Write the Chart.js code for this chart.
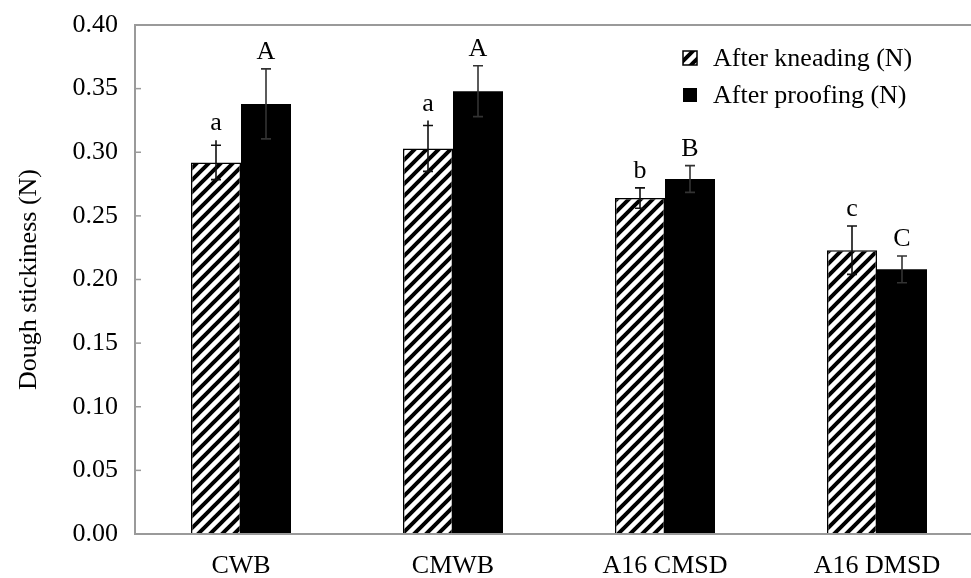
<!DOCTYPE html>
<html>
<head>
<meta charset="utf-8">
<script src="https://cdn.jsdelivr.net/npm/chart.js@4.4.1/dist/chart.umd.min.js"></script>
<style>
body{margin:0;background:#fff;}
#wrap{width:971px;height:578px;overflow:hidden;position:relative;}
</style>
</head>
<body>
<div id="wrap"><canvas id="barChart" width="990" height="578"></canvas></div>
<script>
var labels = ['CWB', 'CMWB', 'A16 CMSD', 'A16 DMSD'];
var kneading = [0.292, 0.303, 0.264, 0.223];
var kneadingErr = [0.0135, 0.018, 0.008, 0.019];
var proofing = [0.338, 0.348, 0.279, 0.208];
var proofingErr = [0.0275, 0.020, 0.0105, 0.0105];
var kneadingLetters = ['a', 'a', 'b', 'c'];
var proofingLetters = ['A', 'A', 'B', 'C'];
var dagger = [true, true, false, false];
var yTicks = [0, 0.05, 0.10, 0.15, 0.20, 0.25, 0.30, 0.35, 0.40];

var serif = '"Liberation Serif", "Times New Roman", serif';

// diagonal hatch
function makeHatch(){
    var c = document.createElement('canvas');
    c.width = 12; c.height = 12;
    var g = c.getContext('2d');
    g.fillStyle = '#fff';
    g.fillRect(0, 0, 12, 12);
    g.strokeStyle = '#000';
    g.lineWidth = 4;
    g.beginPath();
    g.moveTo(-3, 15); g.lineTo(15, -3);
    g.moveTo(-9, 9); g.lineTo(9, -9);
    g.moveTo(3, 21); g.lineTo(21, 3);
    g.stroke();
    return c;
}
var ctx = document.getElementById('barChart').getContext('2d');
var hatch = ctx.createPattern(makeHatch(), 'repeat');

var errs = [kneadingErr, proofingErr];
var letters = [kneadingLetters, proofingLetters];

var extras = {
    id: 'extras',
    afterDatasetsDraw: function(chart){
        var c = chart.ctx;
        var y = chart.scales.y;
        c.save();
        // inner ticks on y axis
        c.strokeStyle = '#9a9a9a';
        c.lineWidth = 1.5;
        yTicks.forEach(function(v){
            var py = y.getPixelForValue(v);
            c.beginPath();
            c.moveTo(chart.chartArea.left, py);
            c.lineTo(chart.chartArea.left + 6, py);
            c.stroke();
        });
        chart.data.datasets.forEach(function(ds, di){
            var meta = chart.getDatasetMeta(di);
            meta.data.forEach(function(bar, i){
                var v = ds.data[i];
                var e = errs[di][i];
                var top = y.getPixelForValue(v + e);
                var bot = y.getPixelForValue(v - e);
                var x = bar.x;
                c.strokeStyle = di === 0 ? '#111' : '#333';
                c.lineWidth = 1.6;
                c.beginPath();
                var tip = top;
                if (di === 0 && dagger[i]) tip = top - 5;
                c.moveTo(x, tip); c.lineTo(x, bot);
                c.moveTo(x - 5, top); c.lineTo(x + 5, top);
                c.moveTo(x - 5, bot); c.lineTo(x + 5, bot);
                c.stroke();
                c.fillStyle = '#000';
                c.font = '26px ' + serif;
                c.textAlign = 'center';
                c.textBaseline = 'alphabetic';
                c.fillText(letters[di][i], x, tip - 10);
            });
        });
        // legend
        c.font = '26px ' + serif;
        c.textAlign = 'left';
        c.textBaseline = 'middle';
        var lx = 683, ly = [58, 95];
        chart.data.datasets.forEach(function(ds, di){
            c.fillStyle = ds.backgroundColor;
            c.fillRect(lx, ly[di] - 7, 14, 14);
            if (di === 0) {
                c.strokeStyle = '#000';
                c.lineWidth = 1.5;
                c.strokeRect(lx, ly[di] - 7, 14, 14);
            }
            c.fillStyle = '#000';
            c.fillText(ds.label, lx + 30, ly[di] + 1);
        });
        c.restore();
    }
};

var barChart = new Chart(ctx, {
    type: 'bar',
    data: {
        labels: labels,
        datasets: [
        {
            label: 'After kneading (N)',
            data: kneading,
            backgroundColor: hatch,
            borderColor: '#000',
            borderWidth: 1.5,
            borderSkipped: 'bottom'
        },
        {
            label: 'After proofing (N)',
            data: proofing,
            backgroundColor: '#000',
            borderWidth: 0
        }
        ]
    },
    options: {
        responsive: false,
        animation: false,
        events: [],
        datasets: { bar: { categoryPercentage: 0.4717, barPercentage: 1 } },
        layout: { padding: { top: 25, right: 7, left: 0, bottom: 0 } },
        plugins: {
            legend: { display: false },
            tooltip: { enabled: false }
        },
        scales: {
            x: {
                grid: { display: false },
                border: { color: '#9a9a9a', width: 2 },
                ticks: { color: '#000', font: { family: serif, size: 26 }, padding: 9 },
                afterFit: function(s){ s.height = 44; s.paddingLeft = 0; s.paddingRight = 0; }
            },
            y: {
                min: 0,
                max: 0.4,
                afterBuildTicks: function(s){
                    s.ticks = yTicks.map(function(v){ return { value: v }; });
                },
                grid: {
                    drawTicks: false,
                    color: function(c){ return c.tick && c.tick.value === 0.4 ? '#9a9a9a' : 'rgba(0,0,0,0)'; },
                    lineWidth: 2
                },
                border: { color: '#9a9a9a', width: 2 },
                ticks: {
                    color: '#000',
                    font: { family: serif, size: 26 },
                    padding: 17,
                    callback: function(v){ return Number(v).toFixed(2); }
                },
                title: {
                    display: true,
                    text: 'Dough stickiness (N)',
                    color: '#000',
                    font: { family: serif, size: 26 },
                    padding: { top: 14, bottom: 10 }
                },
                afterFit: function(s){ s.width = 135; s.paddingTop = 0; s.paddingBottom = 0; }
            }
        }
    },
    plugins: [extras]
});
</script>
</body>
</html>
